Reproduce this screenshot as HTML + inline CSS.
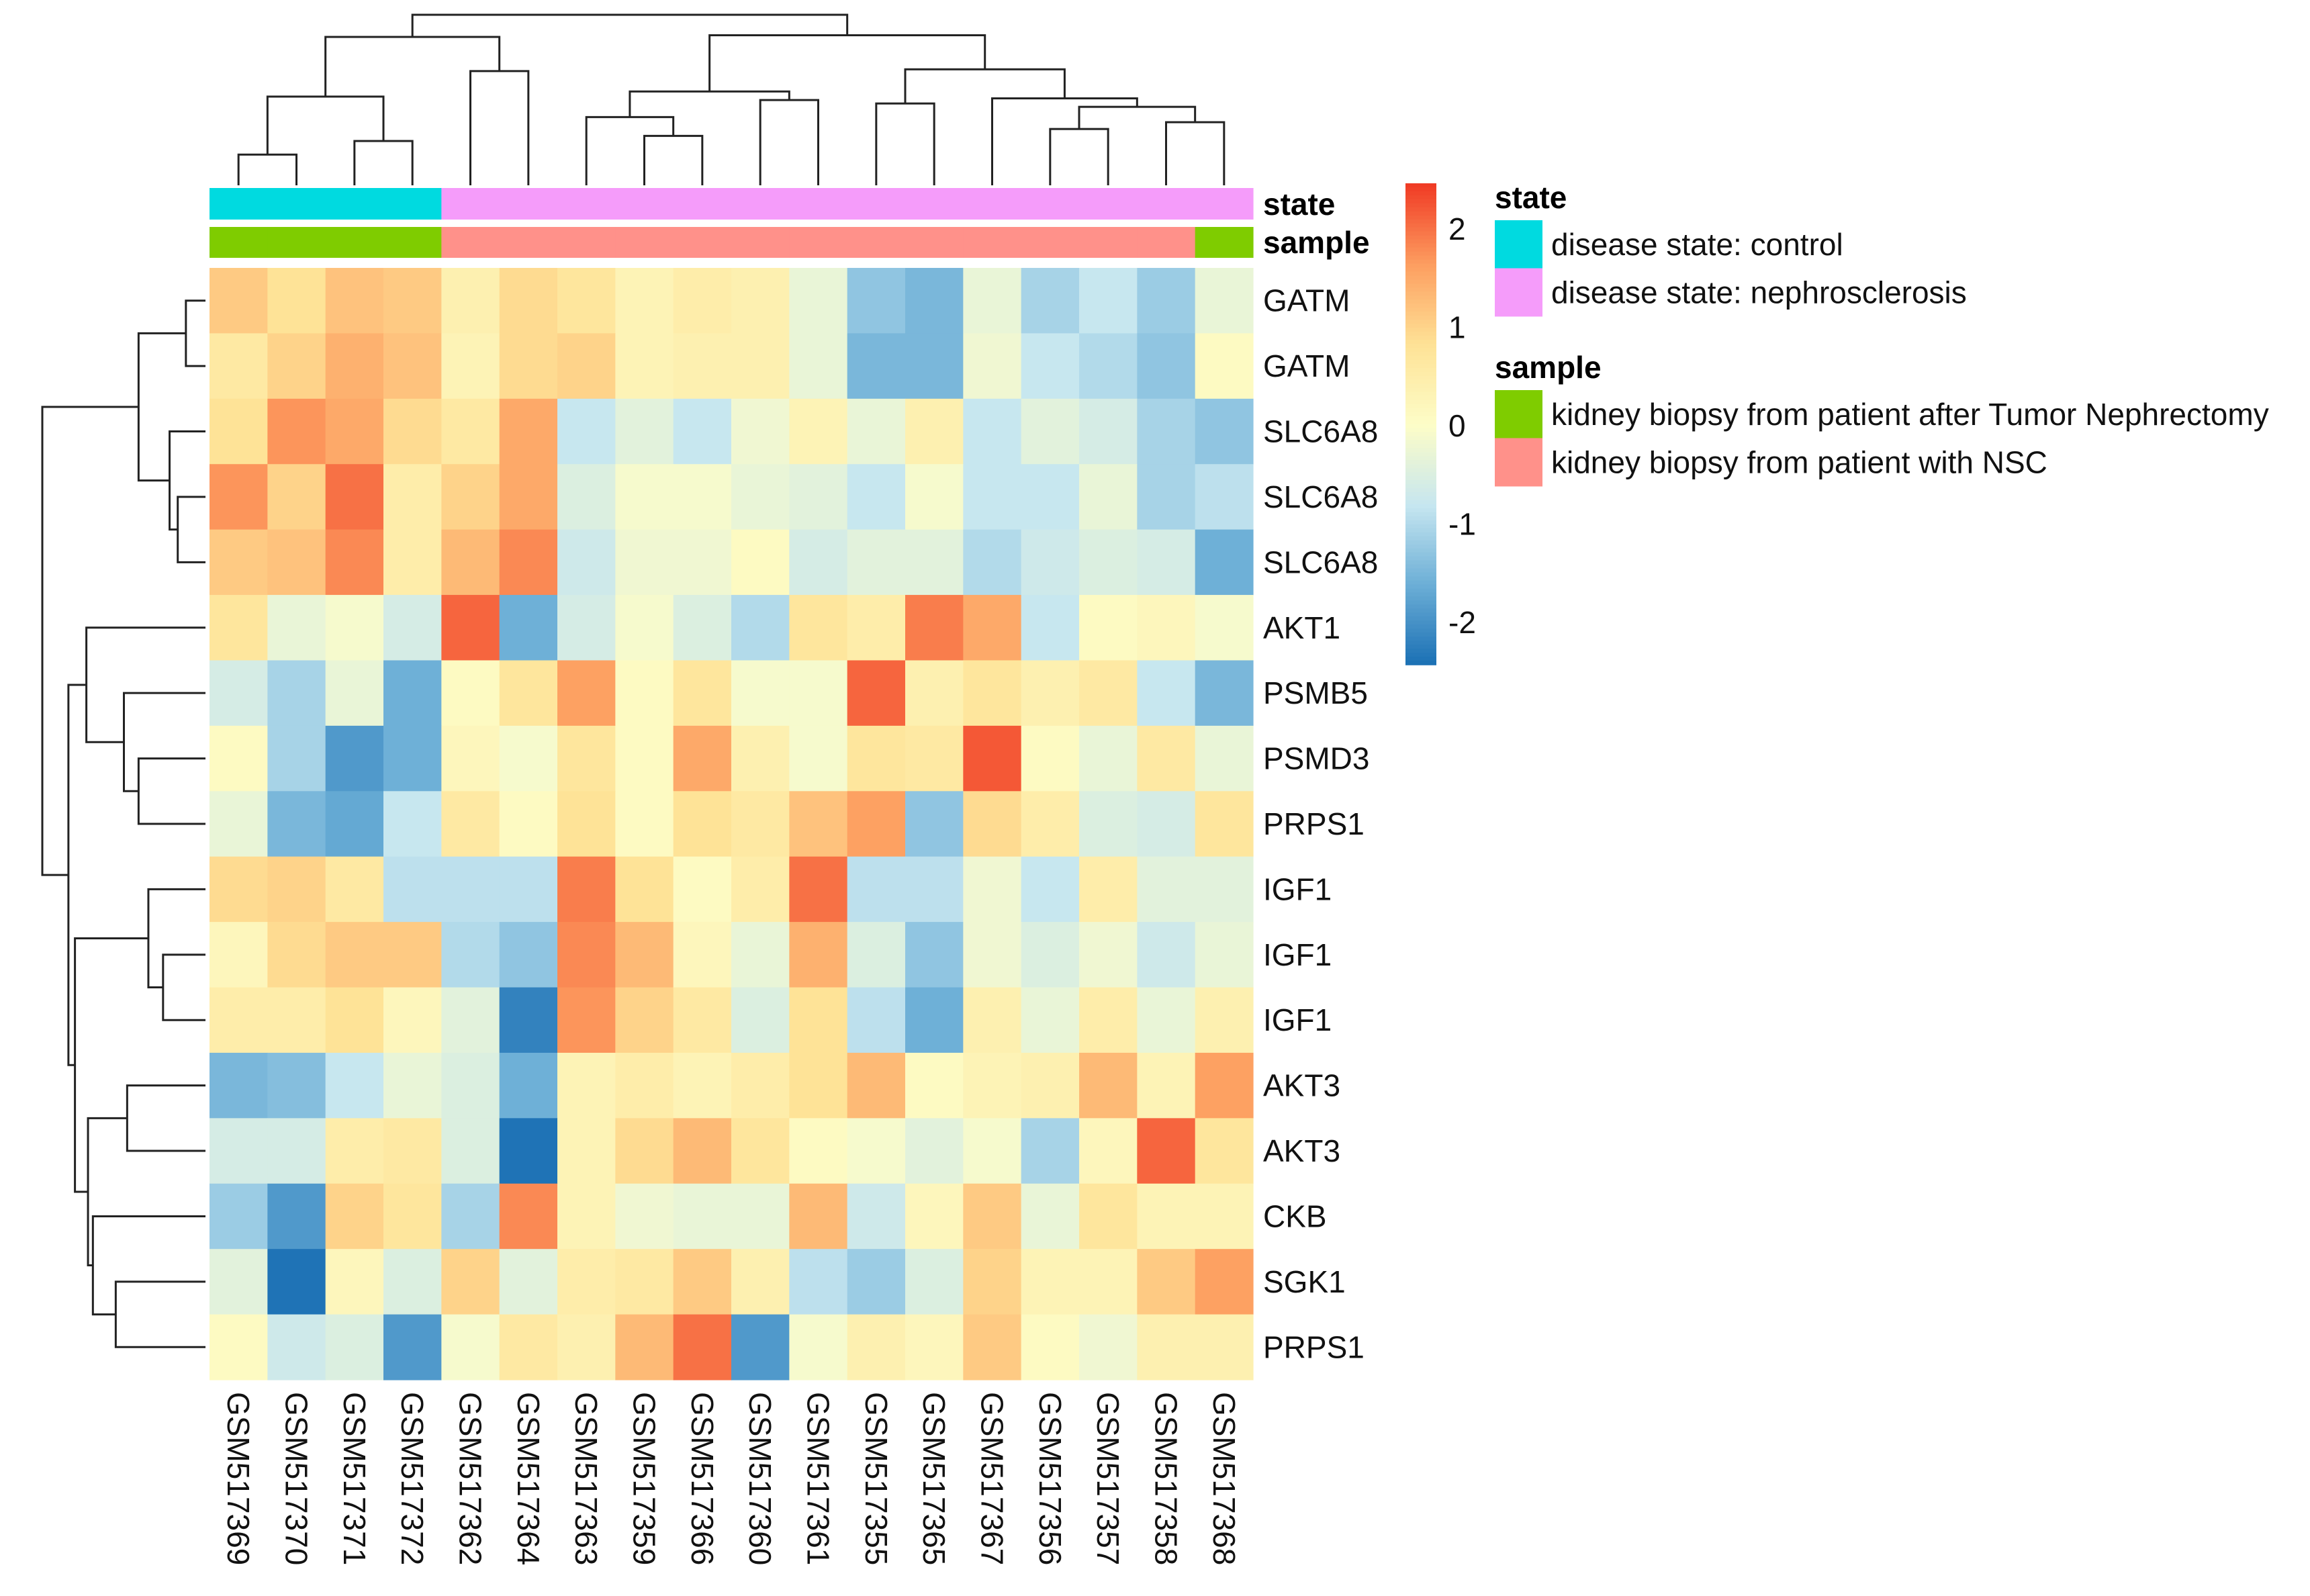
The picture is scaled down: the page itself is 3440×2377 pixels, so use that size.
<!DOCTYPE html>
<html><head><meta charset="utf-8"><style>
html,body{margin:0;padding:0;background:#fff;}
svg{display:block;font-family:"Liberation Sans",sans-serif;}
</style></head><body>
<svg id="chart" width="3440" height="2377" viewBox="0 0 3440 2377" xmlns="http://www.w3.org/2000/svg"></svg>
<script>
const samples = ["GSM517369","GSM517370","GSM517371","GSM517372","GSM517362","GSM517364","GSM517363","GSM517359","GSM517366","GSM517360","GSM517361","GSM517355","GSM517365","GSM517367","GSM517356","GSM517357","GSM517358","GSM517368"];
const genes = ["GATM","GATM","SLC6A8","SLC6A8","SLC6A8","AKT1","PSMB5","PSMD3","PRPS1","IGF1","IGF1","IGF1","AKT3","AKT3","CKB","SGK1","PRPS1"];
const values = [
[1.1,0.8,1.2,1.1,0.4,0.9,0.7,0.3,0.5,0.4,-0.3,-1.3,-1.5,-0.3,-1.1,-0.8,-1.2,-0.3],
[0.6,1.0,1.4,1.2,0.3,0.9,1.0,0.3,0.4,0.4,-0.3,-1.5,-1.5,-0.2,-0.8,-1.0,-1.3,0.1],
[0.8,1.7,1.5,0.9,0.6,1.5,-0.8,-0.4,-0.8,-0.2,0.3,-0.3,0.4,-0.8,-0.4,-0.6,-1.1,-1.3],
[1.7,1.0,2.0,0.5,1.0,1.5,-0.5,-0.1,-0.1,-0.3,-0.4,-0.8,-0.1,-0.8,-0.8,-0.3,-1.1,-0.9],
[1.1,1.2,1.8,0.5,1.3,1.8,-0.7,-0.2,-0.2,0.1,-0.6,-0.4,-0.4,-1.0,-0.7,-0.5,-0.6,-1.6],
[0.7,-0.3,-0.1,-0.6,2.1,-1.6,-0.6,-0.1,-0.5,-1.0,0.7,0.5,1.9,1.5,-0.8,0.1,0.2,-0.1],
[-0.6,-1.1,-0.3,-1.6,0.1,0.7,1.6,0.1,0.7,-0.1,-0.1,2.1,0.4,0.7,0.4,0.6,-0.8,-1.5],
[0.1,-1.1,-1.9,-1.6,0.2,-0.1,0.7,0.1,1.5,0.4,-0.1,0.7,0.6,2.2,0.1,-0.3,0.6,-0.3],
[-0.3,-1.5,-1.7,-0.8,0.6,0.1,0.8,0.1,0.8,0.6,1.2,1.6,-1.3,0.9,0.5,-0.5,-0.6,0.7],
[0.9,1.0,0.6,-0.9,-0.9,-0.9,1.9,0.8,0.1,0.5,2.0,-0.9,-0.9,-0.2,-0.8,0.5,-0.4,-0.4],
[0.2,0.9,1.1,1.1,-1.0,-1.3,1.8,1.3,0.2,-0.3,1.4,-0.5,-1.3,-0.2,-0.5,-0.2,-0.7,-0.3],
[0.5,0.5,0.8,0.2,-0.4,-2.2,1.7,1.0,0.6,-0.5,0.8,-0.9,-1.6,0.4,-0.3,0.5,-0.3,0.4],
[-1.5,-1.4,-0.8,-0.3,-0.5,-1.6,0.3,0.5,0.3,0.5,0.8,1.3,0.1,0.3,0.4,1.3,0.3,1.6],
[-0.6,-0.6,0.5,0.6,-0.5,-2.4,0.3,0.9,1.3,0.7,0.1,-0.1,-0.4,-0.1,-1.1,0.2,2.1,0.7],
[-1.2,-1.9,1.0,0.7,-1.1,1.8,0.3,-0.2,-0.3,-0.3,1.3,-0.7,0.2,1.1,-0.3,0.7,0.3,0.3],
[-0.4,-2.4,0.2,-0.5,1.0,-0.4,0.5,0.6,1.1,0.4,-0.9,-1.2,-0.5,1.0,0.3,0.3,1.1,1.6],
[0.1,-0.7,-0.5,-1.9,-0.1,0.6,0.4,1.3,2.0,-1.9,-0.1,0.4,0.2,1.1,0.1,-0.2,0.4,0.4]
];
const stateGroup = ["control","control","control","control","nephro","nephro","nephro","nephro","nephro","nephro","nephro","nephro","nephro","nephro","nephro","nephro","nephro","nephro"];
const sampleGroup = ["tumor","tumor","tumor","tumor","nsc","nsc","nsc","nsc","nsc","nsc","nsc","nsc","nsc","nsc","nsc","nsc","nsc","tumor"];
const colTicks = [2,1,0,-1,-2];
const colMerges = [[-0,-1,0.18],[-2,-3,0.26],[0,1,0.52],[-4,-5,0.67],[2,3,0.87],[-7,-8,0.29],[-6,5,0.40],[-9,-10,0.50],[6,7,0.55],[-11,-12,0.48],[-14,-15,0.33],[-16,-17,0.37],[10,11,0.46],[-13,12,0.51],[9,13,0.68],[8,14,0.88],[4,15,1.0]];
const rowMerges = [[-0,-1,0.12],[-3,-4,0.17],[-2,1,0.22],[0,2,0.41],[-7,-8,0.41],[-6,4,0.50],[-5,5,0.73],[-10,-11,0.26],[-9,7,0.35],[-12,-13,0.48],[-15,-16,0.55],[-14,10,0.69],[9,11,0.72],[8,12,0.80],[6,13,0.84],[3,14,1.0]];

const svg = document.getElementById('chart');
const NS = 'http://www.w3.org/2000/svg';
function mk(tag, attrs, parent){const e=document.createElementNS(NS,tag);for(const k in attrs)e.setAttribute(k,attrs[k]);(parent||svg).appendChild(e);return e;}

const X0=312, X1=1866, Y0=399, Y1=2055;
const cw=(X1-X0)/samples.length, rh=(Y1-Y0)/genes.length;
const colX=i=>X0+cw*(i+0.5), rowY=r=>Y0+rh*(r+0.5);
const VMIN=-2.45, VMAX=2.45;
const stops=[[-2.45,[26,111,180]],[-1.63,[107,174,214]],[-0.82,[198,230,240]],[0,[253,253,200]],[0.82,[254,226,150]],[1.63,[253,158,96]],[2.45,[240,58,36]]];
function color(v){v=Math.max(VMIN,Math.min(VMAX,v));for(let i=0;i<stops.length-1;i++){const a=stops[i],b=stops[i+1];if(v<=b[0]){const t=(v-a[0])/(b[0]-a[0]);const c=a[1].map((x,j)=>Math.round(x+(b[1][j]-x)*t));return `rgb(${c[0]},${c[1]},${c[2]})`;}}return 'rgb(240,58,36)';}

const cells=mk('g',{});


values.forEach((row,r)=>row.forEach((v,c)=>{
  const e=mk('rect',{x:X0+cw*c,y:Y0+rh*r,width:cw+0.6,height:rh+0.6,fill:color(v)},cells);
  
  
}));

const stateCol={control:'#00DAE0',nephro:'#F59CFA'}, sampleCol={tumor:'#7FCC00',nsc:'#FF918A'};
stateGroup.forEach((g,c)=>{const e=mk('rect',{x:X0+cw*c,y:280,width:cw+0.6,height:47,fill:stateCol[g]});
  
  });
sampleGroup.forEach((g,c)=>{const e=mk('rect',{x:X0+cw*c,y:338,width:cw+0.6,height:46,fill:sampleCol[g]});
  
  });
let t=mk('text',{x:1881,y:320,'font-size':46,'font-weight':'bold'});t.textContent='state';

t=mk('text',{x:1881,y:377,'font-size':46,'font-weight':'bold'});t.textContent='sample';


genes.forEach((g,r)=>{const e=mk('text',{x:1881,y:rowY(r)+16,'font-size':46,fill:'#111'});e.textContent=g;
  });
samples.forEach((s,c)=>{const e=mk('text',{transform:`translate(${colX(c)},2073) rotate(90)`,'font-size':46,'dominant-baseline':'central',fill:'#111'});e.textContent=s;
  });

function dendro(merges,leafPos,hToCoord,baseCoord,vertical,name){
  const g=mk('g',{stroke:'#222','stroke-width':3,fill:'none'});
  
  
  const nodes=[];
  const get=i=>{ if(i<0 || Object.is(i,-0)) return {p:leafPos(-i),h:baseCoord}; return nodes[i]; };
  merges.forEach(m=>{
    const a=get(m[0]), b=get(m[1]), h=hToCoord(m[2]);
    let d;
    if(vertical) d=`M${a.p},${a.h}V${h}H${b.p}V${b.h}`;
    else d=`M${a.h},${a.p}H${h}V${b.p}H${b.h}`;
    mk('path',{d},g);
    nodes.push({p:(a.p+b.p)/2,h});
  });
}
dendro(colMerges,colX,h=>276-h*(276-22),276,true,'column-dendrogram');
dendro(rowMerges,rowY,h=>306-h*(306-63),306,false,'row-dendrogram');

const CB={x:2093,w:46,top:273,bot:990};
const cbScale=v=>633-v*146.5;
const cb=mk('g',{});


const N=120;for(let i=0;i<N;i++){const y=CB.top+(CB.bot-CB.top)*i/N;const v=(633-(y+(CB.bot-CB.top)/N/2))/146.5;
  mk('rect',{x:CB.x,y:y,width:CB.w,height:(CB.bot-CB.top)/N+0.8,fill:color(v)},cb);}
colTicks.forEach(v=>{const e=mk('text',{x:2157,y:cbScale(v)+17,'font-size':46,fill:'#111'});e.textContent=String(v);
  });

function legend(title,y,items,name){
  const g=mk('g',{});
  const tt=mk('text',{x:2226,y:y,'font-size':46,'font-weight':'bold'},g);tt.textContent=title;
  
  items.forEach((it,i)=>{const yy=y+18+i*71.5;
    const r=mk('rect',{x:2226,y:yy,width:71,height:72,fill:it[0]},g);
    
    const tx=mk('text',{x:2310,y:yy+52,'font-size':46,fill:'#111'},g);tx.textContent=it[1];
    });
}
legend('state',310,[['#00DAE0','disease state: control'],['#F59CFA','disease state: nephrosclerosis']],'state-legend');
legend('sample',563,[['#7FCC00','kidney biopsy from patient after Tumor Nephrectomy'],['#FF918A','kidney biopsy from patient with NSC']],'sample-legend');
</script>
</body></html>
